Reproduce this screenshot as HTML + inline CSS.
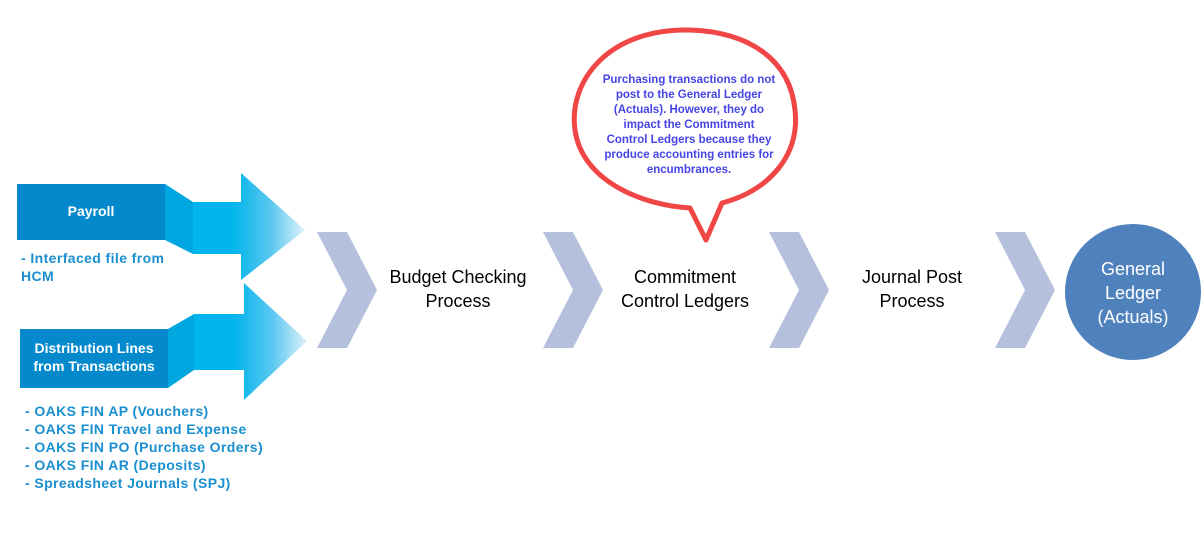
<!DOCTYPE html>
<html><head><meta charset="utf-8"><style>
body{margin:0;background:#fff;width:1201px;height:537px;overflow:hidden;position:relative;font-family:"Liberation Sans",sans-serif}
.t{position:absolute;white-space:nowrap}
.b{color:#1a8fd0;font-weight:bold;font-size:14px;line-height:18px;letter-spacing:0.4px}
.s{color:#000;font-size:18px;line-height:24px;text-align:center}
</style></head><body>
<svg width="1201" height="537" style="position:absolute;left:0;top:0">
<defs>
<linearGradient id="g" x1="0" y1="0" x2="1" y2="0">
<stop offset="0.35" stop-color="#00b4ec"/><stop offset="0.7" stop-color="#5cc8f0"/><stop offset="1" stop-color="#e0f2fb"/>
</linearGradient>
</defs>
<polygon points="165,184 193,202 193,254 165,240" fill="#00a6e0"/>
<polygon points="193,202 241,202 241,173 305,230 241,280 241,254 193,254" fill="url(#g)"/>
<rect x="17" y="184" width="148" height="56" fill="#0389cc"/>
<polygon points="168,329 194,314 194,370 168,388" fill="#00a6e0"/>
<polygon points="194,314 244,314 244,283 307,341 244,400 244,370 194,370" fill="url(#g)"/>
<rect x="20" y="329" width="148" height="59" fill="#0389cc"/>
<g fill="#b4c0dc">
<polygon points="317,232 347,232 377,290 347,348 317,348 347,290"/>
<polygon points="543,232 573,232 603,290 573,348 543,348 573,290"/>
<polygon points="769,232 799,232 829,290 799,348 769,348 799,290"/>
<polygon points="995,232 1025,232 1055,290 1025,348 995,348 1025,290"/>
</g>
<circle cx="1133" cy="292" r="68" fill="#4f81bd"/>
<path d="M690,30 C610,28 568,80 575,130 C582,180 640,205 690,208 L706,240 L722,203 C770,190 800,155 795,110 C790,60 750,32 690,30 Z" fill="#fff" stroke="#f04646" stroke-width="5" stroke-linejoin="round"/>
</svg>
<div class="t" style="left:17px;top:203px;width:148px;text-align:center;color:#fff;font-weight:bold;font-size:14px">Payroll</div>
<div class="t" style="left:20px;top:339px;width:148px;text-align:center;color:#fff;font-weight:bold;font-size:14px;line-height:18px">Distribution Lines<br>from Transactions</div>
<div class="t b" style="left:21px;top:249px">- Interfaced file from<br>HCM</div>
<div class="t b" style="left:25px;top:402px">- OAKS FIN AP (Vouchers)<br>- OAKS FIN Travel and Expense<br>- OAKS FIN PO (Purchase Orders)<br>- OAKS FIN AR (Deposits)<br>- Spreadsheet Journals (SPJ)</div>
<div class="t s" style="left:378px;top:265px;width:160px">Budget Checking<br>Process</div>
<div class="t s" style="left:605px;top:265px;width:160px">Commitment<br>Control Ledgers</div>
<div class="t s" style="left:832px;top:265px;width:160px">Journal Post<br>Process</div>
<div class="t s" style="left:1065px;top:257px;width:136px;color:#fff">General<br>Ledger<br>(Actuals)</div>
<div class="t" style="left:584px;top:73px;width:210px;text-align:center;color:#4545e6;font-weight:bold;font-size:11.5px;line-height:15px">Purchasing transactions do not<br>post to the General Ledger<br>(Actuals). However, they do<br>impact the Commitment<br>Control Ledgers because they<br>produce accounting entries for<br>encumbrances.</div>
</body></html>
